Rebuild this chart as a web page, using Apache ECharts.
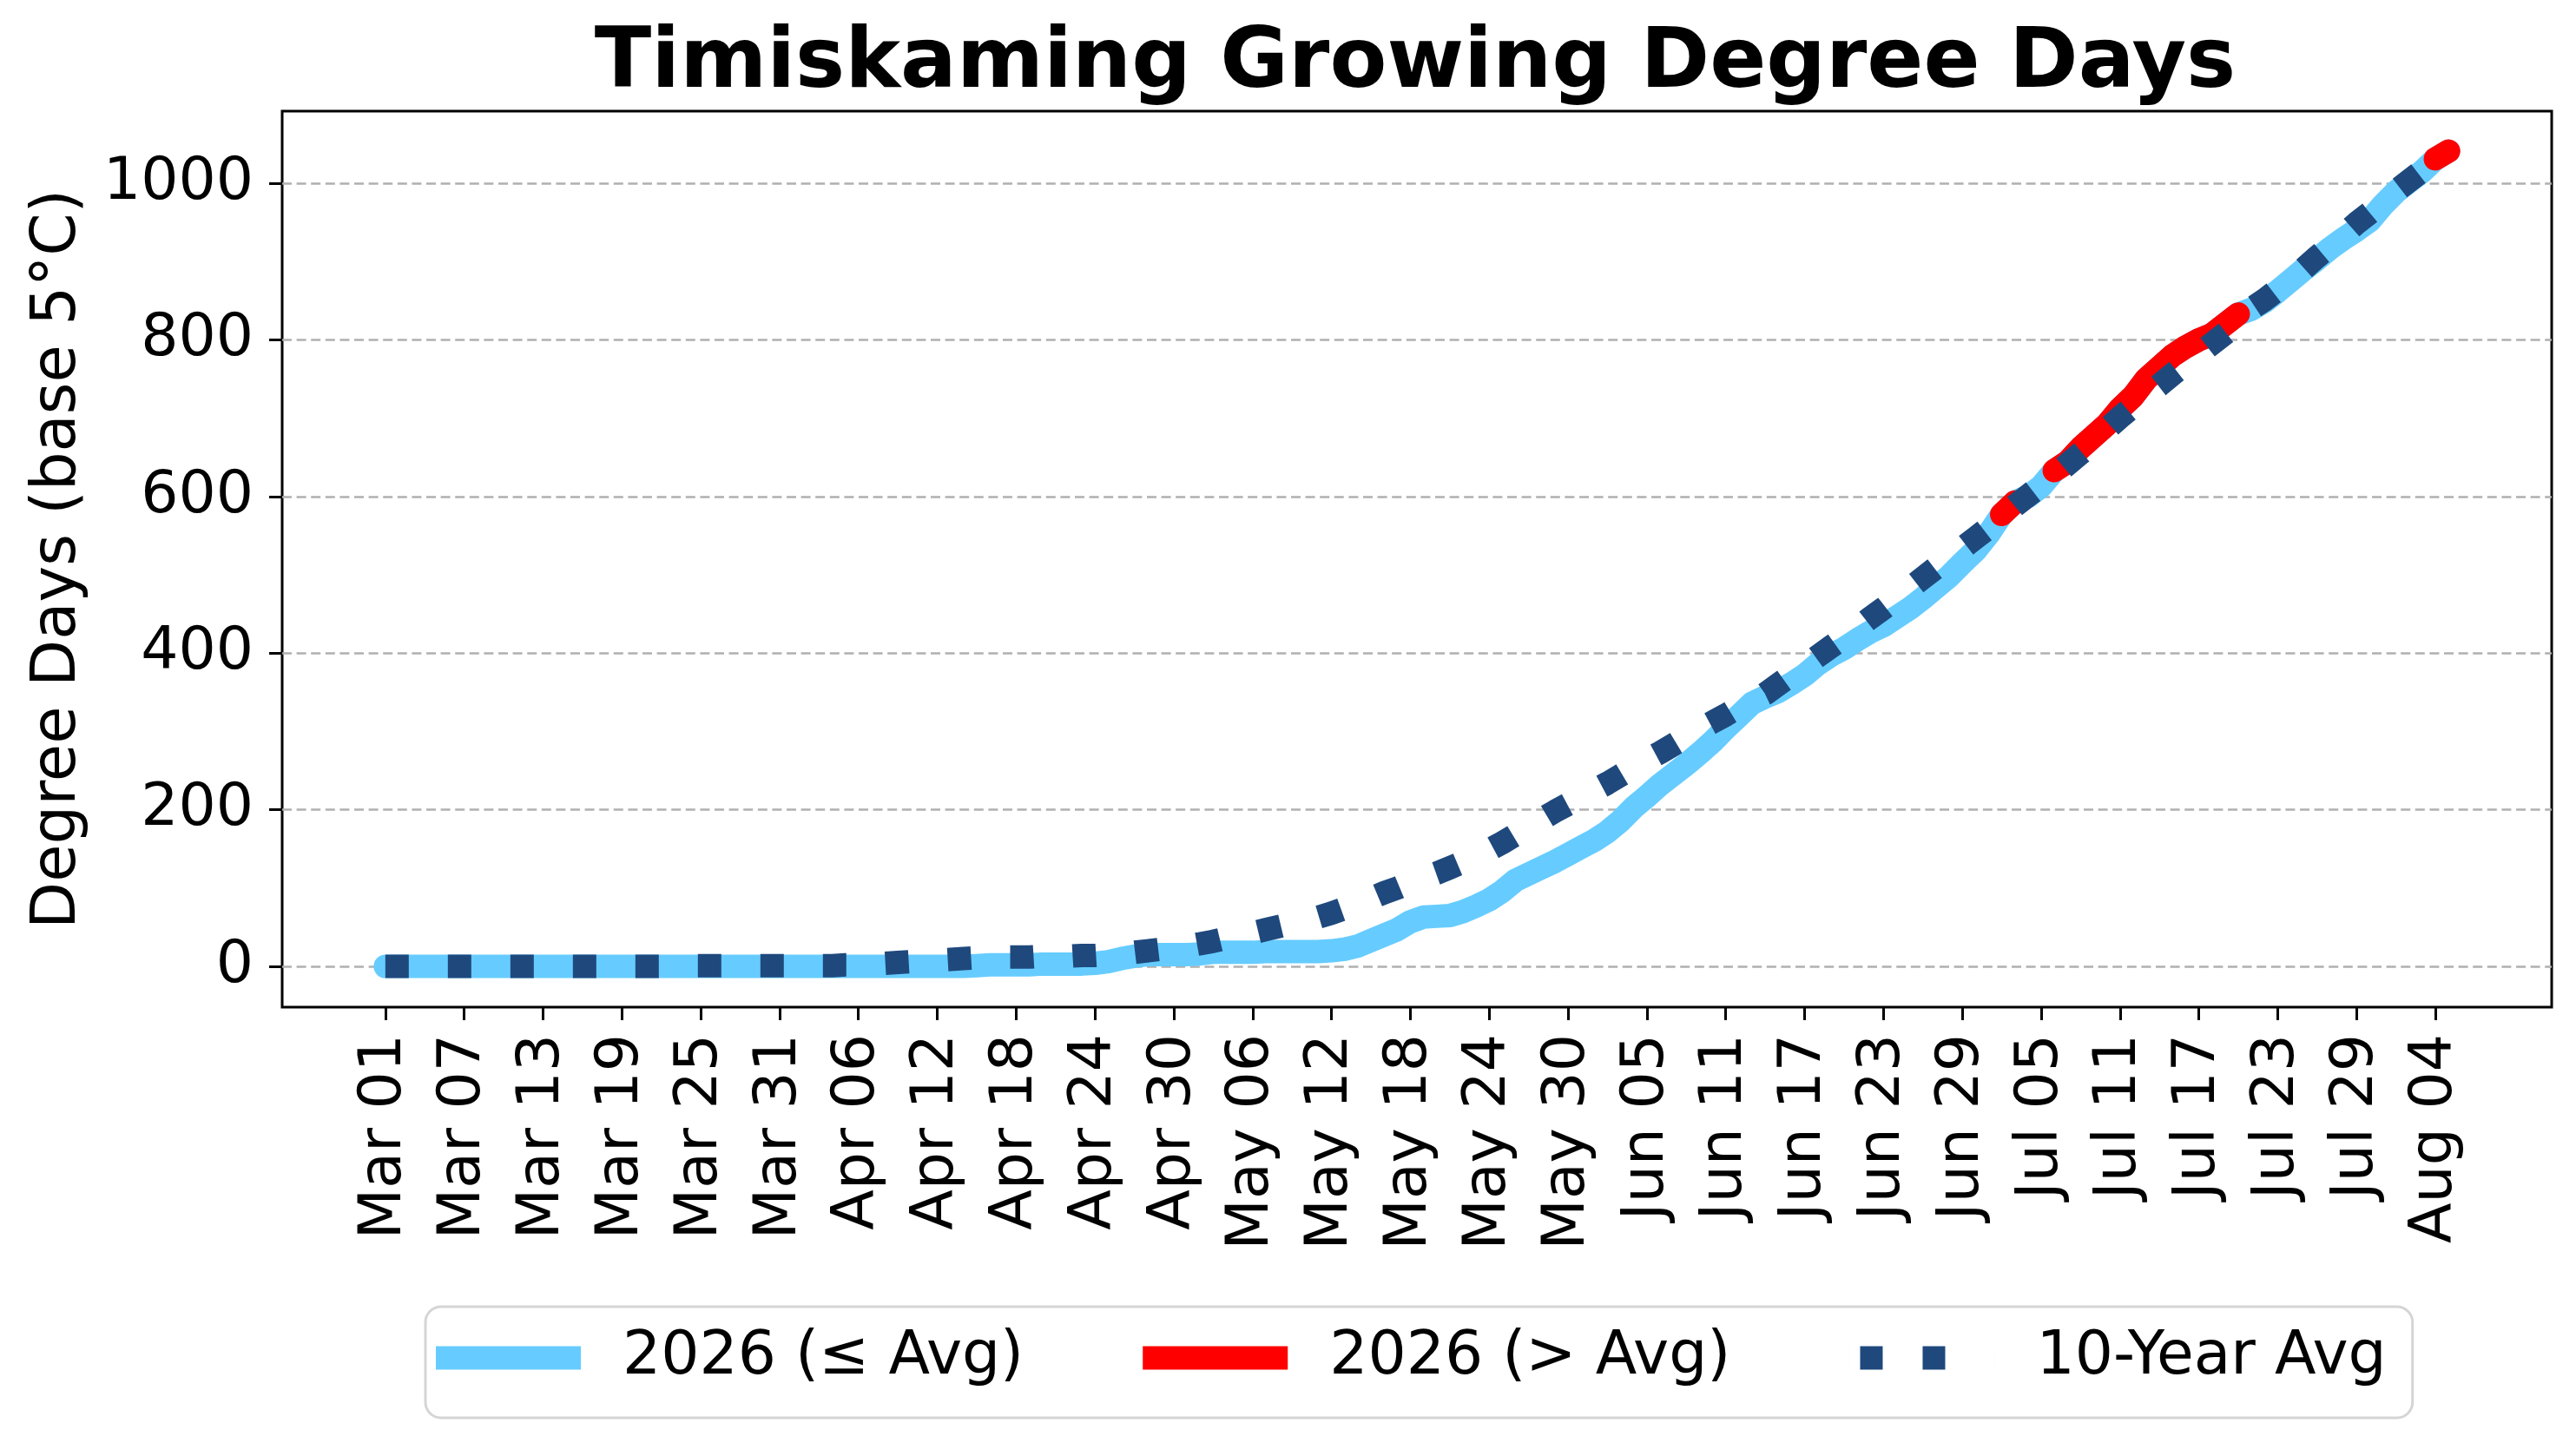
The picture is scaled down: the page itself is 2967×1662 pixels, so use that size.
<!DOCTYPE html>
<html>
<head>
<meta charset="utf-8">
<title>Timiskaming Growing Degree Days</title>
<script src="https://cdn.jsdelivr.net/npm/echarts@6.0.0/dist/echarts.min.js"></script>
<style>
    html, body { margin: 0; padding: 0; background: #fff; }
    #chart { width: 2967px; height: 1662px; }
</style>
</head>
<body>
<div id="chart"></div>
<script>
// tick labels on the x axis (day index counted from Mar 01)
var tickDays = [0, 6, 12, 18, 24, 30, 36, 42, 48, 54, 60, 66, 72, 78, 84, 90, 96, 102, 108, 114, 120, 126, 132, 138, 144, 150, 156];
var tickLabels = ['Mar 01', 'Mar 07', 'Mar 13', 'Mar 19', 'Mar 25', 'Mar 31', 'Apr 06', 'Apr 12', 'Apr 18', 'Apr 24',
    'Apr 30', 'May 06', 'May 12', 'May 18', 'May 24', 'May 30', 'Jun 05', 'Jun 11', 'Jun 17', 'Jun 23',
    'Jun 29', 'Jul 05', 'Jul 11', 'Jul 17', 'Jul 23', 'Jul 29', 'Aug 04'];
var yTicks = [0, 200, 400, 600, 800, 1000];

// 2026 cumulative GDD, one value per day from Mar 01 to Aug 05
var cur2026 = [
    0, 0, 0, 0, 0, 0, 0, 0, 0, 0,
    0, 0, 0, 0, 0, 0, 0, 0, 0, 0,
    0, 0, 0, 0, 0, 0, 0, 0, 0, 0,
    0, 0, 0, 0, 0, 0, 0, 0, 0, 0,
    0, 0, 0, 0, 0, 1, 2, 2, 2, 2,
    3, 3, 3, 3, 4, 6, 10, 13, 15, 15,
    15, 15, 16, 18, 18, 18, 18, 19, 19, 19,
    19, 19, 20, 22, 26, 33, 40, 47, 57, 63,
    64, 65, 70, 77, 85, 96, 110, 118, 126, 134,
    143, 152, 161, 172, 186, 203, 217, 232, 245, 258,
    272, 287, 304, 320, 336, 344, 351, 361, 372, 386,
    397, 406, 417, 427, 435, 446, 457, 470, 484, 498,
    515, 531, 552, 577, 593, 600, 613, 633, 644, 662,
    677, 692, 712, 728, 750, 765, 780, 791, 800, 807,
    820, 833, 839, 849, 862, 876, 890, 903, 917, 929,
    940, 952, 972, 989, 1002, 1015, 1031, 1041
];

// 10-year average cumulative GDD, same days
var avg10 = [
    0, 0, 0, 0, 0, 0, 0, 0, 0, 0,
    0, 0, 0, 0, 0, 0, 0, 0, 0, 0,
    0, 0, 1, 1, 1, 1, 1, 1, 1, 1,
    1, 1, 1, 1, 1, 2, 2, 3, 4, 5,
    6, 7, 8, 9, 10, 11, 11, 12, 12, 12,
    13, 13, 13, 14, 14, 15, 16, 18, 20, 22,
    24, 26, 29, 32, 36, 40, 43, 47, 51, 55,
    59, 63, 68, 74, 80, 87, 94, 100, 107, 113,
    119, 126, 133, 141, 149, 158, 168, 178, 188, 198,
    207, 216, 225, 234, 244, 254, 264, 273, 283, 293,
    303, 312, 321, 331, 340, 348, 360, 372, 384, 396,
    408, 420, 432, 445, 457, 470, 483, 496, 509, 521,
    534, 547, 560, 574, 588, 601, 614, 627, 641, 655,
    669, 686, 701, 715, 729, 742, 756, 769, 782, 795,
    808, 821, 840, 851, 864, 878, 891, 906, 920, 934,
    949, 962, 976, 990, 1003, 1016, 1030, 1039
];

var FONT = 'DejaVu Sans';
var BLUE = '#66ccff';
var RED = '#ff0000';
var NAVY = '#1f497d';

// build [x, y] pairs, red only where 2026 is above the average
var blueData = [];
var redData = [];
var avgData = [];
for (var i = 0; i < cur2026.length; i++) {
    blueData.push([i, cur2026[i]]);
    redData.push([i, cur2026[i] > avg10[i] ? cur2026[i] : null]);
    avgData.push([i, avg10[i]]);
}

var oChart = echarts.init(document.getElementById('chart'), null, { renderer: 'canvas' });

var chartopt = {
    animation: false,
    backgroundColor: '#fff',
    graphic: [{
        type: 'text',
        x: 1630,
        y: 75,
        silent: true,
        style: {
            text: 'Timiskaming Growing Degree Days',
            fontFamily: FONT,
            fontWeight: 'bold',
            fontSize: 96,
            fill: '#000',
            align: 'center',
            verticalAlign: 'middle'
        }
    }],
    grid: {
        left: 325,
        top: 128,
        width: 2614,
        height: 1032,
        containLabel: false,
        outerBoundsMode: 'none',
        show: true,
        borderColor: '#000',
        borderWidth: 3,
        backgroundColor: 'transparent'
    },
    legend: {
        left: 490,
        top: 1505,
        orient: 'horizontal',
        padding: [19, 30, 29, 12],
        itemWidth: 167,
        itemHeight: 27,
        itemGap: 137,
        backgroundColor: '#fff',
        borderColor: '#d5d5d5',
        borderWidth: 3,
        borderRadius: 18,
        selectedMode: false,
        textStyle: {
            fontFamily: FONT,
            fontSize: 69.5,
            color: '#000',
            lineHeight: 80,
            padding: [0, 0, 0, 43]
        },
        data: [
            { name: '2026 (≤ Avg)', icon: 'rect', itemStyle: { color: BLUE, borderWidth: 0 } },
            { name: '2026 (> Avg)', icon: 'rect', itemStyle: { color: RED, borderWidth: 0 } },
            {
                name: '10-Year Avg',
                icon: 'path://M0,0h0.01v27h-0.01z M12,0h26v27h-26z M84,0h26v27h-26z M166.99,0h0.01v27h-0.01z',
                itemStyle: { color: NAVY, borderWidth: 0 }
            }
        ]
    },
    xAxis: {
        type: 'value',
        min: -7.85,
        max: 164.85,
        axisLine: { show: false, onZero: false },
        splitLine: { show: false },
        axisTick: {
            show: true,
            customValues: tickDays,
            length: 15,
            lineStyle: { color: '#000', width: 3 }
        },
        axisLabel: {
            show: true,
            customValues: tickDays,
            rotate: 90,
            margin: 31,
            fontFamily: FONT,
            fontSize: 68,
            color: '#000',
            formatter: function (v) {
                var k = tickDays.indexOf(Math.round(v));
                return k >= 0 ? tickLabels[k] : '';
            }
        }
    },
    yAxis: {
        type: 'value',
        min: -52,
        max: 1092,
        name: 'Degree Days (base 5°C)',
        nameLocation: 'middle',
        nameRotate: 90,
        nameGap: 222,
        nameMoveOverlap: false,
        nameTextStyle: { fontFamily: FONT, fontSize: 70.5, color: '#000' },
        axisLine: { show: false, onZero: false },
        axisTick: {
            show: true,
            customValues: yTicks,
            length: 15,
            lineStyle: { color: '#000', width: 3 }
        },
        axisLabel: {
            show: true,
            customValues: yTicks,
            margin: 33,
            fontFamily: FONT,
            fontSize: 68,
            color: '#000',
            formatter: function (v) {
                return String(v);
            }
        },
        splitLine: {
            show: true,
            showMinLine: true,
            showMaxLine: true,
            lineStyle: { color: '#b0b0b0', width: 2.6, type: [11, 5.6] }
        }
    },
    series: [{
        name: '2026 (≤ Avg)',
        type: 'line',
        data: blueData,
        symbol: 'none',
        showSymbol: false,
        silent: true,
        z: 2,
        itemStyle: { color: BLUE },
        lineStyle: { color: BLUE, width: 27, cap: 'round', join: 'round' }
    }, {
        name: '2026 (> Avg)',
        type: 'line',
        data: redData,
        symbol: 'none',
        showSymbol: false,
        connectNulls: false,
        silent: true,
        z: 3,
        itemStyle: { color: RED },
        lineStyle: { color: RED, width: 27, cap: 'round', join: 'round' }
    }, {
        name: '10-Year Avg',
        type: 'line',
        data: avgData,
        symbol: 'none',
        showSymbol: false,
        silent: true,
        z: 4,
        itemStyle: { color: NAVY },
        lineStyle: { color: NAVY, width: 27, type: [27, 45], cap: 'butt' }
    }]
};

oChart.setOption(chartopt);
</script>
</body>
</html>
